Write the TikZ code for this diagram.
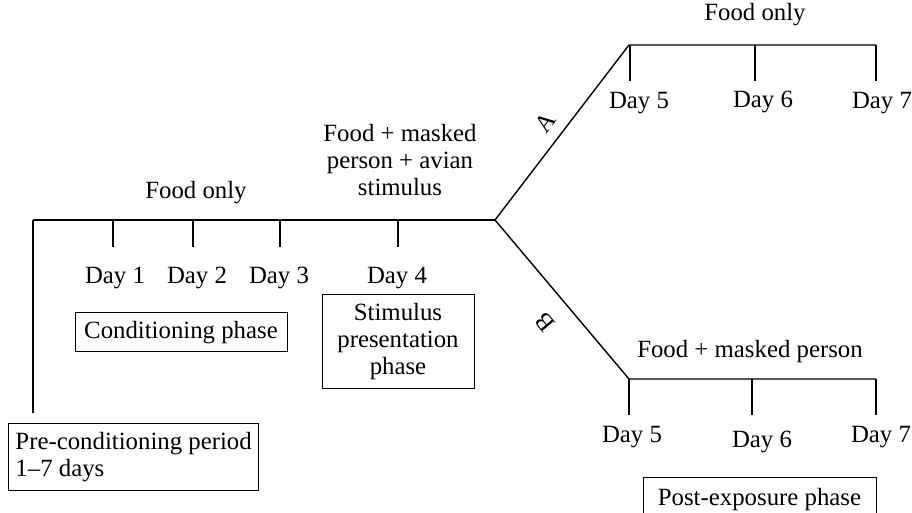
\documentclass[tikz,border=0pt]{standalone}
\usepackage{fontspec}
\setmainfont{Liberation Serif}
\usetikzlibrary{arrows}

\begin{document}
\begin{tikzpicture}[x=0.5pt, y=-0.5pt, line width=0.7pt,
  every node/.style={font=\fontsize{12.4}{13.5}\selectfont, inner sep=0pt},
  phasebox/.style={draw, line width=0.5pt, inner sep=3.5pt},
  tick/.style={line width=1pt}]
\useasboundingbox (0,0) rectangle (912,513);

\coordinate (Start) at (33,220);
\coordinate (Fork) at (495,220);
\coordinate (ATop) at (629,45);
\coordinate (AEnd) at (876,45);
\coordinate (BTop) at (629,379);
\coordinate (BEnd) at (876,379);

% main timeline and the two branches
\draw (Start) -- (Fork);
\draw (Start) -- ++(0,193);
\draw (Fork) -- (ATop) -- (AEnd);
\draw (Fork) -- (BTop) -- (BEnd);

% ticks
\foreach \x/\n in {113/1,193/2,280/3,398/4}
  \draw[tick] (\x,220) coordinate (T\n) -- ++(0,27);
\draw[tick] (T1) -- (T3);
\foreach \x/\n in {630/5,755/6,876/7}
  \draw[tick] (\x,45) coordinate (TA\n) -- ++(0,36);
\foreach \x/\n in {629/5,752/6,876/7}
  \draw[tick] (\x,379) coordinate (TB\n) -- ++(0,36);

% day labels
\foreach \x/\n in {115/1,197/2,279/3,397/4}
  \draw (\x,278) node (D\n) {Day \n};
\draw (639,103) node (DA5) {Day 5};
\draw (763,102) node (DA6) {Day 6};
\draw (882,103) node (DA7) {Day 7};
\draw (632,437) node (DB5) {Day 5};
\draw (762,442) node (DB6) {Day 6};
\draw (881,437) node (DB7) {Day 7};

% treatments
\draw (196,193) node (FoodOnly) {Food only};
\draw (400,160) node (FoodStim) [align=center] {Food + masked\\person + avian\\stimulus};
\draw (755,15) node (FoodOnlyA) {Food only};
\draw (750,352) node (FoodPerson) {Food + masked person};
\draw (545,122) node (LabA) [rotate=53] {A};
\draw (545,322) node (LabB) [rotate=130] {B};

% phases
\draw (8,423) node (Pre) [phasebox, anchor=north west, minimum width=123.5pt,
  minimum height=33.5pt, align=left] {Pre-conditioning period\\1--7 days};
\draw (181,332.5) node (Cond) [phasebox, minimum width=106pt,
  minimum height=19.5pt] {Conditioning phase};
\draw (398,342) node (Stim) [phasebox, minimum width=76pt,
  minimum height=47pt, align=center] {Stimulus\\presentation\\phase};
\draw (759.5,477) node (Post) [phasebox, anchor=north, minimum width=116.5pt,
  minimum height=22pt] {Post-exposure phase};

\end{tikzpicture}
\end{document}
